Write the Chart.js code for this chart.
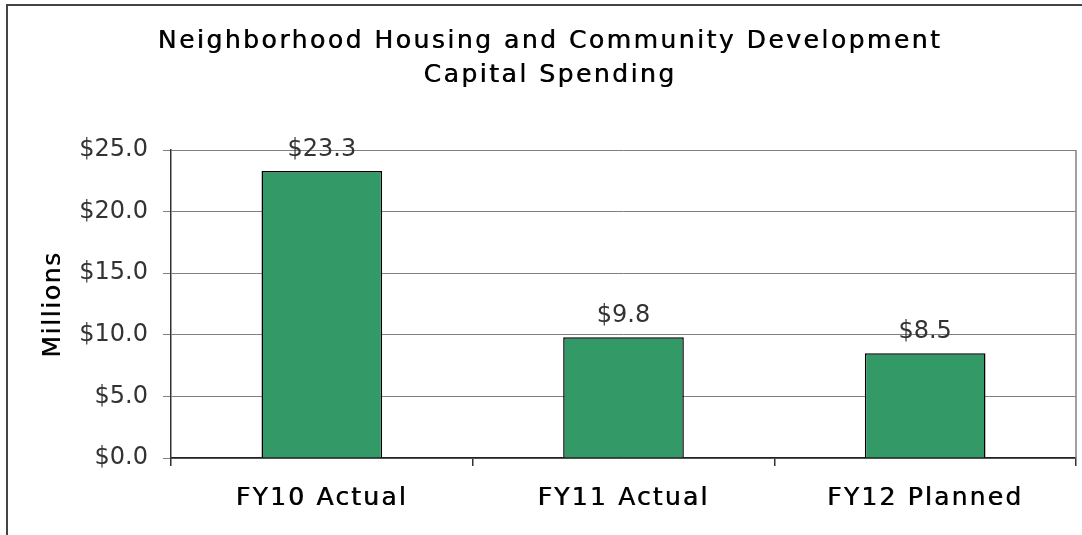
<!DOCTYPE html>
<html>
<head>
<meta charset="utf-8">
<script src="https://cdn.jsdelivr.net/npm/chart.js@4"></script>
<style>
  html, body { margin: 0; padding: 0; background: #fff; }
</style>
</head>
<body>
<canvas id="chart" width="1082" height="535"></canvas>
<script>
const categories = ['FY10 Actual', 'FY11 Actual', 'FY12 Planned'];
const spending = [23.3, 9.8, 8.5];
const titleLines = ['Neighborhood Housing and Community Development', 'Capital Spending'];
const yMin = 0;
const yMax = 25;
const yStep = 5;

const FONT = '"DejaVu Sans", Verdana, sans-serif';

// run a draw method with letter spacing and a slight faux-bold (1px-ish shadow)
const spaced = (fn, spacing, dx, dy) => function (...args) {
	const ctx = this.ctx;
	ctx.save();
	ctx.letterSpacing = spacing;
	ctx.shadowColor = 'rgba(0,0,0,0.85)';
	ctx.shadowBlur = 0;
	ctx.shadowOffsetX = dx;
	ctx.shadowOffsetY = dy;
	fn.apply(this, args);
	ctx.restore();
};

const decorations = {
	id: 'decorations',
	beforeDraw(chart) {
		if (chart.$patched) return;
		chart.$patched = true;
		const t = chart.titleBlock;
		t.draw = spaced(t.draw, '2.5px', 0.6, 0);
		const x = chart.scales.x;
		x.drawLabels = spaced(x.drawLabels, '2.2px', 0.6, 0);
		const y = chart.scales.y;
		y.drawTitle = spaced(y.drawTitle, '1.6px', 0, 0.6);
	},
	afterDraw(chart) {
		const ctx = chart.ctx;
		const area = chart.chartArea;
		ctx.save();
		// outer frame (left + top)
		ctx.strokeStyle = '#444';
		ctx.lineWidth = 2;
		ctx.beginPath();
		ctx.moveTo(7, 540);
		ctx.lineTo(7, 5);
		ctx.lineTo(1090, 5);
		ctx.stroke();
		// plot right edge
		ctx.strokeStyle = '#808080';
		ctx.lineWidth = 1.5;
		ctx.beginPath();
		ctx.moveTo(area.right, area.top);
		ctx.lineTo(area.right, area.bottom);
		ctx.stroke();

		// value labels over the bars
		ctx.fillStyle = '#333';
		ctx.font = '24px ' + FONT;
		ctx.textAlign = 'center';
		ctx.textBaseline = 'alphabetic';
		chart.getDatasetMeta(0).data.forEach((bar, i) => {
			ctx.fillText('$' + spending[i].toFixed(1), bar.x, bar.y - 15);
		});
		ctx.restore();
	}
};

new Chart(document.getElementById('chart'), {
	type: 'bar',
	data: {
		labels: categories,
		datasets: [
			{
				data: spending,
				backgroundColor: '#339966',
				borderColor: '#000',
				borderWidth: 1.5,
				categoryPercentage: 1,
				barPercentage: 0.4,
			},
		],
	},
	options: {
		responsive: false,
		animation: false,
		layout: { padding: { left: 24, right: 6, top: 0, bottom: 0 } },
		plugins: {
			legend: { display: false },
			tooltip: { enabled: false },
			title: {
				display: true,
				text: titleLines,
				color: '#000',
				font: { family: FONT, size: 25, weight: 'normal', lineHeight: 34 / 25 },
				padding: { top: 24, bottom: 58 },
			},
		},
		scales: {
			x: {
				grid: { display: true, drawOnChartArea: false, tickLength: 8, color: '#333', lineWidth: 1.5 },
				border: { color: '#222', width: 1.5 },
				ticks: { color: '#000', font: { family: FONT, size: 25 }, padding: 17 },
				afterFit: (s) => { s.height = 77; },
			},
			y: {
				min: yMin,
				max: yMax,
				ticks: {
					stepSize: yStep,
					color: '#333',
					font: { family: FONT, size: 24 },
					padding: 15,
					callback: (v) => '$' + v.toFixed(1),
				},
				grid: { color: '#808080', lineWidth: 1, tickLength: 8 },
				border: { color: '#333', width: 1.5 },
				title: {
					display: true,
					text: 'Millions',
					color: '#000',
					font: { family: FONT, size: 25 },
					padding: { top: 14, bottom: 0 },
				},
				afterFit: (s) => { s.width = 147; },
			},
		},
	},
	plugins: [decorations],
});
</script>
</body>
</html>
